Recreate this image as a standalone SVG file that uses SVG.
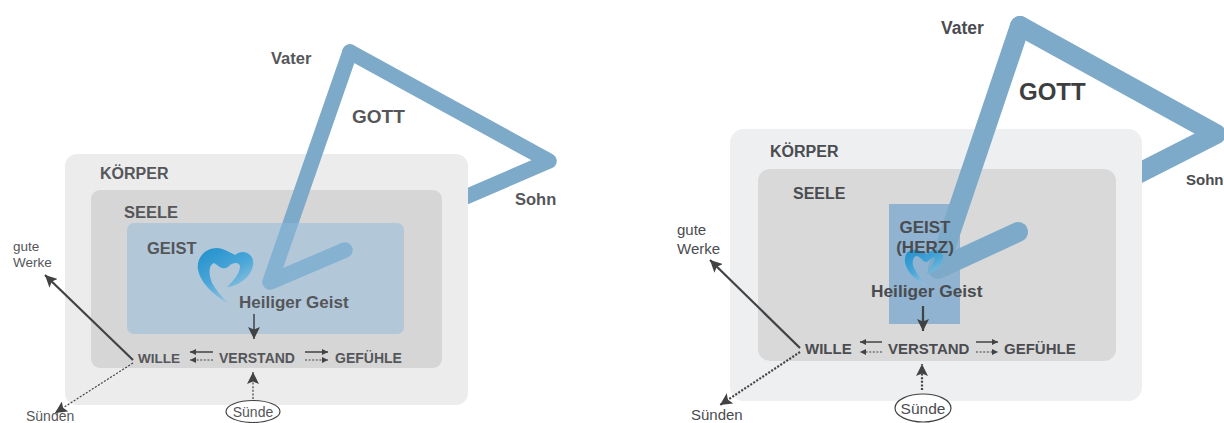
<svg xmlns="http://www.w3.org/2000/svg" width="1224" height="423" viewBox="0 0 1224 423">
<style>
text{font-family:"Liberation Sans",Arial,sans-serif;fill:#4a4c50}
.b{font-weight:700}
.lt text{fill:#55565a}
.l{font-weight:400}
.g{fill:none;stroke:#7eaac9;stroke-linecap:round;stroke-linejoin:round}
.c{fill:none;stroke:#414244;stroke-width:1.5}
.t{fill:none;stroke:#414244;stroke-width:2.2}
.d{fill:none;stroke:#414244;stroke-width:1.2;stroke-dasharray:2 1.6}
.dt{fill:none;stroke:#414244;stroke-width:2.2;stroke-dasharray:2 1.6}
.e{fill:#fff;stroke:#414244;stroke-width:1.2}
</style>
<defs>
<marker id="a" markerUnits="userSpaceOnUse" markerWidth="14" markerHeight="12" refX="12" refY="6" orient="auto"><path d="M0 0L12 6L0 12L2.5 6Z" fill="#414244"/></marker>
<marker id="m" markerUnits="userSpaceOnUse" markerWidth="7" markerHeight="7" refX="6" refY="3" orient="auto"><path d="M0 0L6 3L0 6Z" fill="#414244"/></marker>
<linearGradient id="h" x1="0" y1="0" x2="0.6" y2="1"><stop offset="0" stop-color="#1f8fcb"/><stop offset=".55" stop-color="#4aa6d8"/><stop offset="1" stop-color="#9cc8e0"/></linearGradient>
</defs>

<g class="lt">
<g id="left-gott-back"><path class="g" stroke-width="15.5" d="M350 52L549 161L440 208"/></g>
<g id="left-koerper"><rect x="65" y="154" width="403" height="251" rx="12" fill="#ececec"/><text class="b" x="100" y="179" font-size="16">KÖRPER</text></g>
<g id="left-seele"><rect x="91" y="190" width="351" height="178" rx="9" fill="#d6d6d6"/><text class="b" x="124" y="218" font-size="16.5">SEELE</text></g>
<g id="left-gott">
<path class="g" stroke-width="15.5" d="M345 250L270 282L350 52"/>
<text class="b" x="352" y="123" font-size="19">GOTT</text>
<text class="b" x="271" y="64" font-size="16.5">Vater</text>
<text class="b" x="515" y="205" font-size="16.5">Sohn</text>
</g>
<g id="left-geist"><rect x="127" y="223" width="277" height="111" rx="7" fill="#8db9dc" fill-opacity=".5"/><text class="b" x="147" y="254" font-size="16.5">GEIST</text></g>
<g id="left-heart">
<path fill="url(#h)" d="M228 303C216 297 201 284 198 270C196 258 205 248 217 248C223 248 229 252 235 255C241 250 250 251 253 260C255 271 244 285 227 287C233 281 240 274 240 266C238 261 232 263 228 267C222 271 218 265 214 263C209 265 208 272 212 283C216 290 222 297 228 303Z"/>
<text class="b" x="239" y="308" font-size="17">Heiliger Geist</text>
</g>
<g id="left-wille"><text class="b" x="138" y="363" font-size="13.5">WILLE</text></g>
<g id="left-verstand"><text class="b" x="219" y="363" font-size="14">VERSTAND</text></g>
<g id="left-gefuehle"><text class="b" x="335" y="363" font-size="14">GEFÜHLE</text></g>
<g id="left-gute-werke"><text class="l" x="13" y="251" font-size="13.5">gute</text><text class="l" x="13" y="267" font-size="13.5">Werke</text></g>
<g id="left-suenden"><text class="l" x="26" y="421" font-size="14">Sünden</text></g>
<g id="left-suende"><ellipse class="e" cx="253" cy="411.500" rx="27" ry="11"/><text class="l" x="253" y="417" text-anchor="middle" font-size="14">Sünde</text></g>
<g id="left-connectors">
<path class="c" d="M254 314V339" marker-end="url(#a)"/>
<path class="t" d="M133 360L45 275" marker-end="url(#a)"/>
<path class="d" d="M133 363L55 413" marker-end="url(#a)"/>
<path class="d" d="M253 399V372" marker-end="url(#a)"/>
<path class="c" d="M213 352H190" marker-end="url(#m)"/>
<path class="d" d="M213 360H190" marker-end="url(#m)"/>
<path class="c" d="M305 352H328" marker-end="url(#m)"/>
<path class="d" d="M305 360H328" marker-end="url(#m)"/>
</g>
</g>

<g id="right-gott-back"><path class="g" stroke-width="20" d="M1020 26L1216 134L1100 193"/></g>
<g id="right-koerper"><rect x="730" y="129" width="412" height="272" rx="14" fill="#eeeff0"/><text class="b" x="770" y="157" font-size="16">KÖRPER</text></g>
<g id="right-seele"><rect x="758" y="169" width="358" height="192" rx="12" fill="#d9d9d9"/><text class="b" x="793" y="199" font-size="16">SEELE</text></g>
<g id="right-geist"><rect x="889" y="204" width="71" height="120" fill="#8fb3d0"/></g>
<g id="right-gott">
<path class="g" stroke-width="20" d="M1018 232L938 269L1020 26"/>
<text class="b" x="1019" y="100" font-size="24" style="fill:#3d3e40">GOTT</text>
<text class="b" x="941" y="34" font-size="17.500">Vater</text>
<text class="b" x="1186" y="185" font-size="15">Sohn</text>
</g>
<g id="right-heart">
<path fill="url(#h)" d="M927 286C917 281 906 272 905 262C904 254 909 249 915 250C919 250 923 252 927 254C931 250 938 248 941 252C945 256 943 263 938 268C934 271 931 273 926 274C930 269 934 264 935 258C932 256 930 260 927 262C923 263 921 256 916 256C912 258 912 264 914 268C917 275 922 281 927 286Z"/>
<text class="b" x="871" y="297" font-size="17.300">Heiliger Geist</text>
</g>
<g id="right-geist-label"><text class="b" x="925" y="233" font-size="17" text-anchor="middle">GEIST</text><text class="b" x="925" y="253" font-size="17" text-anchor="middle">(HERZ)</text></g>
<g id="right-wille"><text class="b" x="805" y="354" font-size="15">WILLE</text></g>
<g id="right-verstand"><text class="b" x="888" y="354" font-size="15">VERSTAND</text></g>
<g id="right-gefuehle"><text class="b" x="1004" y="354" font-size="15">GEFÜHLE</text></g>
<g id="right-gute-werke"><text class="l" x="677" y="235" font-size="15">gute</text><text class="l" x="677" y="254" font-size="15">Werke</text></g>
<g id="right-suenden"><text class="l" x="691" y="420" font-size="15">Sünden</text></g>
<g id="right-suende"><ellipse class="e" cx="923" cy="408" rx="28" ry="14"/><text class="l" x="923" y="414" text-anchor="middle" font-size="15.500">Sünde</text></g>
<g id="right-connectors">
<path class="t" d="M923 306V331" marker-end="url(#a)"/>
<path class="t" d="M800 348L710 260" marker-end="url(#a)"/>
<path class="dt" d="M800 352L720 405" marker-end="url(#a)"/>
<path class="dt" d="M922 390V364" marker-end="url(#a)"/>
<path class="c" d="M882 342H860" marker-end="url(#m)"/>
<path class="d" d="M882 352H860" marker-end="url(#m)"/>
<path class="c" d="M976 342H998" marker-end="url(#m)"/>
<path class="d" d="M976 352H998" marker-end="url(#m)"/>
</g>
</svg>
